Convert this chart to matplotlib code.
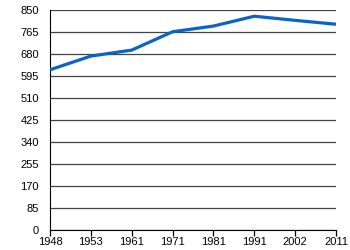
import matplotlib
matplotlib.use('Agg')
import matplotlib.pyplot as plt

# Data
years = ['1948', '1953', '1961', '1971', '1981', '1991', '2002', '2011']
population = [619, 672, 695, 766, 788, 826, 810, 795]
y_ticks = [0, 85, 170, 255, 340, 425, 510, 595, 680, 765, 850]

plt.rcParams['font.family'] = ['Liberation Sans', 'DejaVu Sans']

fig = plt.figure(figsize=(3.5, 2.5), dpi=100)
ax = fig.add_axes([50 / 350, 20 / 250, 286 / 350, 220 / 250])

x = list(range(len(years)))
ax.plot(x, population, color='#0a64c8', linewidth=2.3, solid_capstyle='butt', zorder=3)

ax.set_xlim(0, len(years) - 1)
ax.set_ylim(0, 850)
ax.set_xticks(x)
ax.set_xticklabels(years)
ax.set_yticks(y_ticks)
ax.yaxis.grid(True, color='#444444', linewidth=0.9)
ax.set_axisbelow(True)

for side in ['top', 'right']:
    ax.spines[side].set_visible(False)
ax.spines['left'].set_color('black')
ax.spines['bottom'].set_color('black')
ax.tick_params(axis='y', length=0, pad=8, labelsize=8)
ax.tick_params(axis='x', length=4, width=0.9, pad=1, labelsize=8)

fig.savefig('out.png', dpi=100)
